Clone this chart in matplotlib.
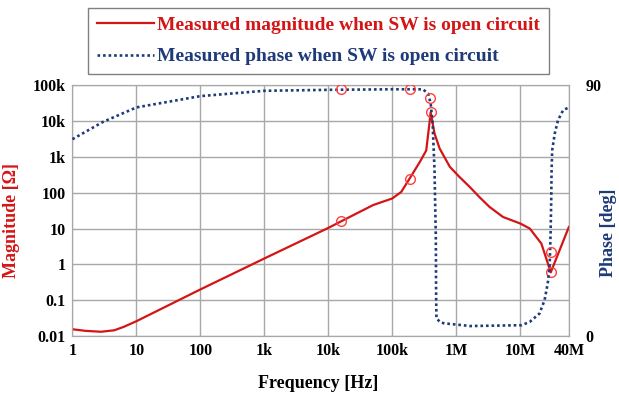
import numpy as np
from matplotlib import pyplot as plt
from matplotlib.ticker import FixedLocator, NullLocator

# magnitude curve (Hz, ohm)
mag_freq = [1, 1.6, 2.8, 4.5, 6.3, 10, 100, 1e3, 1e4, 1.6e4, 5e4, 1e5, 1.38e5,
            1.86e5, 2.69e5, 3.39e5, 3.8e5, 3.98e5, 4.57e5, 5.5e5, 7.94e5, 1.12e6,
            1.62e6, 2.29e6, 3.31e6, 5.37e6, 1e7, 1.41e7, 2.14e7, 3.0e7, 5.75e7]
mag_vals = [0.0155, 0.014, 0.0132, 0.0145, 0.018, 0.026, 0.2, 1.46, 10.4, 16, 45,
            69, 105, 246, 716, 1500, 8300, 17700, 4470, 1700, 525, 275, 145, 76,
            40, 21, 13.8, 10, 3.8, 0.6, 11]

# phase curve (Hz, deg)
ph_freq = [1, 3.0, 10, 100, 1e3, 1e4, 1e5, 3.0e5, 3.63e5, 3.98e5, 4.27e5, 4.57e5,
           4.79e5, 4.84e5, 4.9e5, 5.75e5, 6.9e5, 1.26e6, 1.62e6, 1.05e7, 1.41e7,
           2.0e7, 2.4e7, 2.69e7, 2.88e7, 2.98e7, 3.05e7, 3.09e7, 3.16e7, 3.47e7,
           3.89e7, 4.68e7, 5.75e7]
ph_vals = [70.6, 76.8, 82.0, 86.05, 87.96, 88.3, 88.5, 88.5, 87.0, 83.4, 76.3,
           59.5, 35.6, 15, 6.3, 4.8, 4.5, 3.9, 3.6, 3.9, 5.1, 8.1, 12.9, 18.9,
           24.8, 36.8, 48.8, 59.5, 66.7, 72.7, 77.4, 81, 82]

# highlighted measurement points
mark_freq = [1.6e4, 1.86e5, 3.98e5, 3.0e7]
mark_mag = [16, 246, 17700, 0.6]
mark_ph_freq = [1.6e4, 1.86e5, 3.9e5, 3.0e7]
mark_ph = [88.5, 88.5, 85.2, 30.2]

x_ticks = [1, 10, 100, 1e3, 1e4, 1e5, 1e6, 1e7, 10**7.76]
x_labels = ['1', '10', '100', '1k', '10k', '100k', '1M', '10M', '40M']
y_ticks = [0.01, 0.1, 1, 10, 100, 1e3, 1e4, 1e5]
y_labels = ['0.01', '0.1', '1', '10', '100', '1k', '10k', '100k']

red = '#d41515'
blue = '#1f3a78'
grid = '#a8a8a8'
plt.rcParams['font.family'] = ['Liberation Serif', 'DejaVu Serif']
plt.rcParams['font.weight'] = 'bold'

fig = plt.figure(figsize=(6.19, 3.94), dpi=100)
ax = fig.add_axes([0.117, 0.147, 0.802, 0.637])
ax2 = ax.twinx()

ax.set_xscale('log')
ax.set_yscale('log')
ax.set_xlim(1, 10**7.76)
ax.set_ylim(0.01, 1e5)
ax.xaxis.set_major_locator(FixedLocator(x_ticks))
ax.set_xticklabels(x_labels)
ax.xaxis.set_minor_locator(NullLocator())
ax.yaxis.set_major_locator(FixedLocator(y_ticks))
ax.set_yticklabels(y_labels)
ax.yaxis.set_minor_locator(NullLocator())
ax.tick_params(length=0, labelsize=11.5, pad=5)
ax.grid(True, color=grid, lw=1)
for s in ax.spines.values():
    s.set_color(grid)

mline, = ax.plot(mag_freq, mag_vals, color=red, lw=1.6, zorder=3,
                 label='Measured magnitude when SW is open circuit')
ax.plot(mark_freq, mark_mag, 'o', ms=7, mfc='none', mec='#ff4040', mew=1, zorder=4)

ax2.set_ylim(0, 90)
ax2.yaxis.set_major_locator(FixedLocator([0, 90]))
ax2.tick_params(length=0, labelsize=11.5, pad=12)
for s in ax2.spines.values():
    s.set_color(grid)
pline, = ax2.plot(ph_freq, ph_vals, color=blue, lw=1.9, ls=(0, (1, 1.1)),
                  dash_capstyle='butt', zorder=3,
                  label='Measured phase when SW is open circuit')
ax2.plot(mark_ph_freq, mark_ph, 'o', ms=7, mfc='none', mec='#ff4040', mew=1, zorder=4)

ax.set_xlabel('Frequency [Hz]', fontsize=13, fontweight='bold')
ax.xaxis.set_label_coords(0.495, -0.155)
ax.set_ylabel('Magnitude [Ω]', fontsize=13, fontweight='bold', color=red)
ax.yaxis.set_label_coords(-0.105, 0.46)
ax2.set_ylabel('Phase [deg]', fontsize=13, fontweight='bold', color=blue)
ax2.yaxis.set_label_coords(1.062, 0.41)

leg = fig.legend(handles=[mline, pline], loc='upper center',
                 bbox_to_anchor=(0.515, 0.98), borderaxespad=0, fontsize=14,
                 labelcolor='linecolor', handlelength=2.9, handletextpad=0.2,
                 borderpad=0.45, labelspacing=0.7, fancybox=False,
                 edgecolor='#808080', framealpha=1)
leg.get_frame().set_linewidth(1)

fig.savefig('out.png', dpi=100)
